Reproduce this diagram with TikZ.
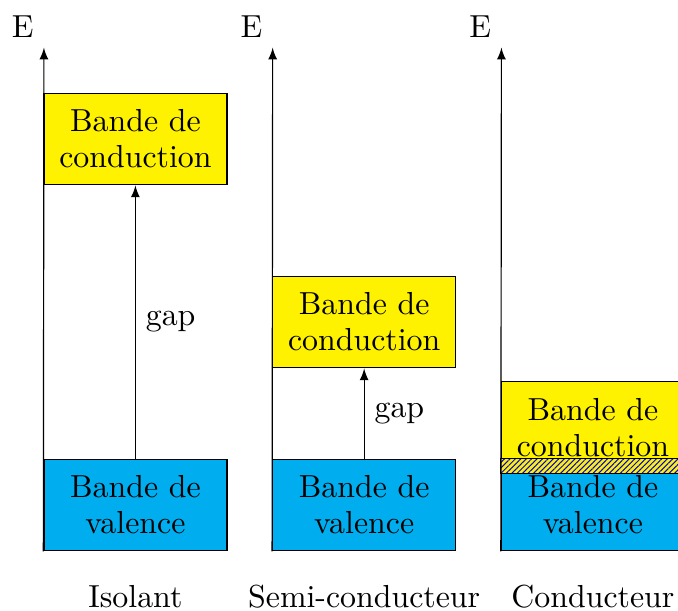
\documentclass[tikz,border=0pt]{standalone}
\usepackage{amsmath}
\usepackage{amssymb}
\usepackage{tikz}
\usetikzlibrary{patterns.meta}
\definecolor{bandeJaune}{RGB}{255,242,0}
\definecolor{bandeBleue}{RGB}{0,174,239}

\begin{document}
\begin{tikzpicture}[x=1.09cm,y=1.09cm]
				\tikzstyle{every node}=[font=\fontsize{10.8}{12.2}\selectfont]
				\tikzstyle{bande}=[draw,minimum width=2.18cm,minimum height=1.09cm,inner sep=0pt,align=center]
				\useasboundingbox (-0.48,-0.656) rectangle (6.93,6.02);
				% isolant
				\node[bande,fill=bandeBleue] (iv) at (1,0.5) {Bande de\\valence};
				\node[bande,fill=bandeJaune] (ic) at (1,4.5) {Bande de\\conduction};
				\coordinate (ie) at (0,5.5);
				\draw[-latex] (iv.south west) -- (ie)node[above left]{E};
				\draw[-latex] (iv) -- (ic)node[midway,right]{gap};
				\node (ti) at (1,-0.5) {Isolant};
				% semi-conducteur
				\node[bande,fill=bandeBleue] (sv) at (3.5,0.5) {Bande de\\valence};
				\node[bande,fill=bandeJaune] (sc) at (3.5,2.5) {Bande de\\conduction};
				\coordinate (se) at (2.5,5.5);
				\draw[-latex] (sv.south west) -- (se)node[above left]{E};
				\draw[-latex] (sv) -- (sc)node[midway,right]{gap};
				\node (ts) at (3.5,-0.5) {Semi-conducteur};
				% conducteur
				\node[bande,fill=bandeJaune] (cc) at (6,1.35) {Bande de\\conduction};
				\node[bande,fill=bandeBleue] (cv) at (6,0.5) {Bande de\\valence};
				\draw[preaction={fill=bandeJaune},pattern={Lines[angle=45,distance=1.3pt,line width=0.35pt]},pattern color=blue] (cc.south west) rectangle (cv.north east);
				\coordinate (ce) at (5,5.5);
				\draw[-latex] (cv.south west) -- (ce)node[above left]{E};
				\node (tc) at (6,-0.5) {Conducteur};
			\end{tikzpicture}
\end{document}
